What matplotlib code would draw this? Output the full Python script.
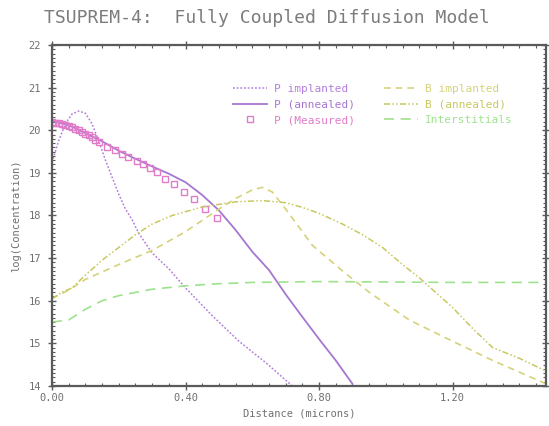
import matplotlib
matplotlib.use("Agg")
import matplotlib.pyplot as plt
from matplotlib.ticker import MultipleLocator, FormatStrFormatter

# Phosphorus implanted profile
p_impl_x = [0.00, 0.02, 0.04, 0.06, 0.08, 0.10, 0.12, 0.14, 0.16, 0.18, 0.20,
            0.22, 0.24, 0.26, 0.30, 0.35, 0.40, 0.48, 0.56, 0.64, 0.72]
p_impl_y = [19.25, 19.75, 20.15, 20.38, 20.45, 20.40, 20.15, 19.75, 19.30, 18.90, 18.50,
            18.15, 17.90, 17.58, 17.12, 16.75, 16.30, 15.65, 15.05, 14.55, 14.00]

# Phosphorus after anneal
p_ann_x = [0.00, 0.05, 0.10, 0.15, 0.20, 0.25, 0.30, 0.35, 0.40, 0.45, 0.50,
           0.55, 0.60, 0.65, 0.70, 0.75, 0.80, 0.85, 0.90]
p_ann_y = [20.22, 20.12, 19.93, 19.74, 19.52, 19.33, 19.15, 18.98, 18.78, 18.48, 18.12,
           17.66, 17.15, 16.72, 16.15, 15.62, 15.10, 14.60, 14.05]

# Measured phosphorus (SIMS)
p_meas_x = [0.000, 0.010, 0.020, 0.030, 0.040, 0.050, 0.060, 0.070, 0.080, 0.090,
            0.100, 0.110, 0.120, 0.130, 0.140, 0.164, 0.189, 0.209, 0.229, 0.254,
            0.274, 0.294, 0.314, 0.339, 0.364, 0.396, 0.424, 0.459, 0.495]
p_meas_y = [20.20, 20.18, 20.17, 20.15, 20.12, 20.10, 20.07, 20.04, 20.00, 19.96,
            19.92, 19.88, 19.83, 19.78, 19.72, 19.61, 19.53, 19.45, 19.37, 19.28,
            19.20, 19.12, 19.02, 18.86, 18.73, 18.56, 18.39, 18.16, 17.94]

# Boron implanted profile
b_impl_x = [0.00, 0.05, 0.10, 0.20, 0.30, 0.40, 0.50, 0.55, 0.60, 0.63, 0.66, 0.70,
            0.78, 0.87, 0.95, 1.07, 1.20, 1.32, 1.48]
b_impl_y = [16.05, 16.25, 16.50, 16.85, 17.18, 17.62, 18.15, 18.40, 18.60, 18.66, 18.55, 18.15,
            17.30, 16.70, 16.20, 15.55, 15.05, 14.60, 14.05]

# Boron after anneal
b_ann_x = [0.00, 0.03, 0.06, 0.10, 0.15, 0.20, 0.25, 0.30, 0.36, 0.45, 0.55, 0.63,
           0.70, 0.75, 0.80, 0.87, 0.93, 0.99, 1.05, 1.10, 1.20, 1.26, 1.32, 1.40, 1.48]
b_ann_y = [16.05, 16.20, 16.30, 16.60, 16.95, 17.25, 17.55, 17.80, 18.00, 18.20, 18.32, 18.35,
           18.30, 18.19, 18.05, 17.80, 17.55, 17.25, 16.85, 16.54, 15.84, 15.35, 14.90, 14.65, 14.35]

# Interstitial concentration
int_x = [0.00, 0.05, 0.10, 0.15, 0.20, 0.30, 0.40, 0.50, 0.60, 0.80, 1.00, 1.20, 1.48]
int_y = [15.50, 15.55, 15.80, 16.00, 16.12, 16.27, 16.35, 16.40, 16.43, 16.45, 16.44, 16.43, 16.43]

x_ticks = [0.0, 0.4, 0.8, 1.2]
y_ticks = [14, 15, 16, 17, 18, 19, 20, 21, 22]

c_pimpl = "#b37fdc"
c_pann = "#a676d0"
c_pmeas = "#e07cc8"
c_bimpl = "#d6d27a"
c_bann = "#c8c860"
c_int = "#9ee28e"
c_text = "#707070"
c_axis = "#5a5a5a"

mono = ["DejaVu Sans Mono"]

fig = plt.figure(figsize=(5.49, 4.26), dpi=100)
ax = fig.add_axes([0.0947, 0.0939, 0.9, 0.8005])

ax.plot(p_impl_x, p_impl_y, color=c_pimpl, lw=1.1, ls=(0, (1.2, 1.2)), label="P implanted")
ax.plot(p_ann_x, p_ann_y, color=c_pann, lw=1.3, ls="-", label="P (annealed)")
ax.plot(p_meas_x, p_meas_y, ls="none", marker="s", ms=5, mfc="none", mec=c_pmeas,
        mew=1.0, label="P (Measured)")
ax.plot(b_impl_x, b_impl_y, color=c_bimpl, lw=1.2, ls=(0, (4, 3)), label="B implanted")
ax.plot(b_ann_x, b_ann_y, color=c_bann, lw=1.1, ls=(0, (4, 1.5, 1, 1.5, 1, 1.5)), label="B (annealed)")
ax.plot(int_x, int_y, color=c_int, lw=1.2, ls=(0, (6, 4)), label="Interstitials")

ax.set_xlim(0, 1.48)
ax.set_ylim(14, 22)
ax.set_xticks(x_ticks)
ax.set_yticks(y_ticks)
ax.xaxis.set_major_formatter(FormatStrFormatter("%.2f"))
ax.xaxis.set_minor_locator(MultipleLocator(0.05))
ax.yaxis.set_minor_locator(MultipleLocator(0.1))

for s in ax.spines.values():
    s.set_color(c_axis)
    s.set_linewidth(1.6)

ax.tick_params(which="major", direction="inout", length=6, width=1.0, color=c_axis,
               top=True, right=True, labelsize=7.5, labelcolor=c_text)
ax.tick_params(axis="y", which="major", pad=5)
ax.tick_params(axis="x", which="major", pad=2)
ax.tick_params(which="minor", direction="in", length=2.5, width=0.8, color=c_axis,
               top=True, right=True)
for lab in ax.get_xticklabels() + ax.get_yticklabels():
    lab.set_family(mono)

ax.set_xlabel("Distance (microns)", family=mono, fontsize=7.5, color=c_text, labelpad=4)
ax.set_ylabel("log(Concentration)", family=mono, fontsize=7.5, color=c_text, labelpad=5)

fig.text(0.08, 0.958, "TSUPREM-4:  Fully Coupled Diffusion Model", family=mono,
         fontsize=13, color="#7c7c7c", ha="left", va="center")

leg = ax.legend(ncol=2, loc="upper left", bbox_to_anchor=(0.355, 0.902), frameon=False,
                borderpad=0, prop={"family": mono, "size": 8}, handlelength=3.1,
                handletextpad=0.6, columnspacing=2.6, labelspacing=0.5, markerscale=0.9)
text_colors = [c_pimpl, c_pann, c_pmeas, c_bimpl, c_bann, c_int]
for t, c in zip(leg.get_texts(), text_colors):
    t.set_color(c)

fig.savefig("out.png", dpi=100)
